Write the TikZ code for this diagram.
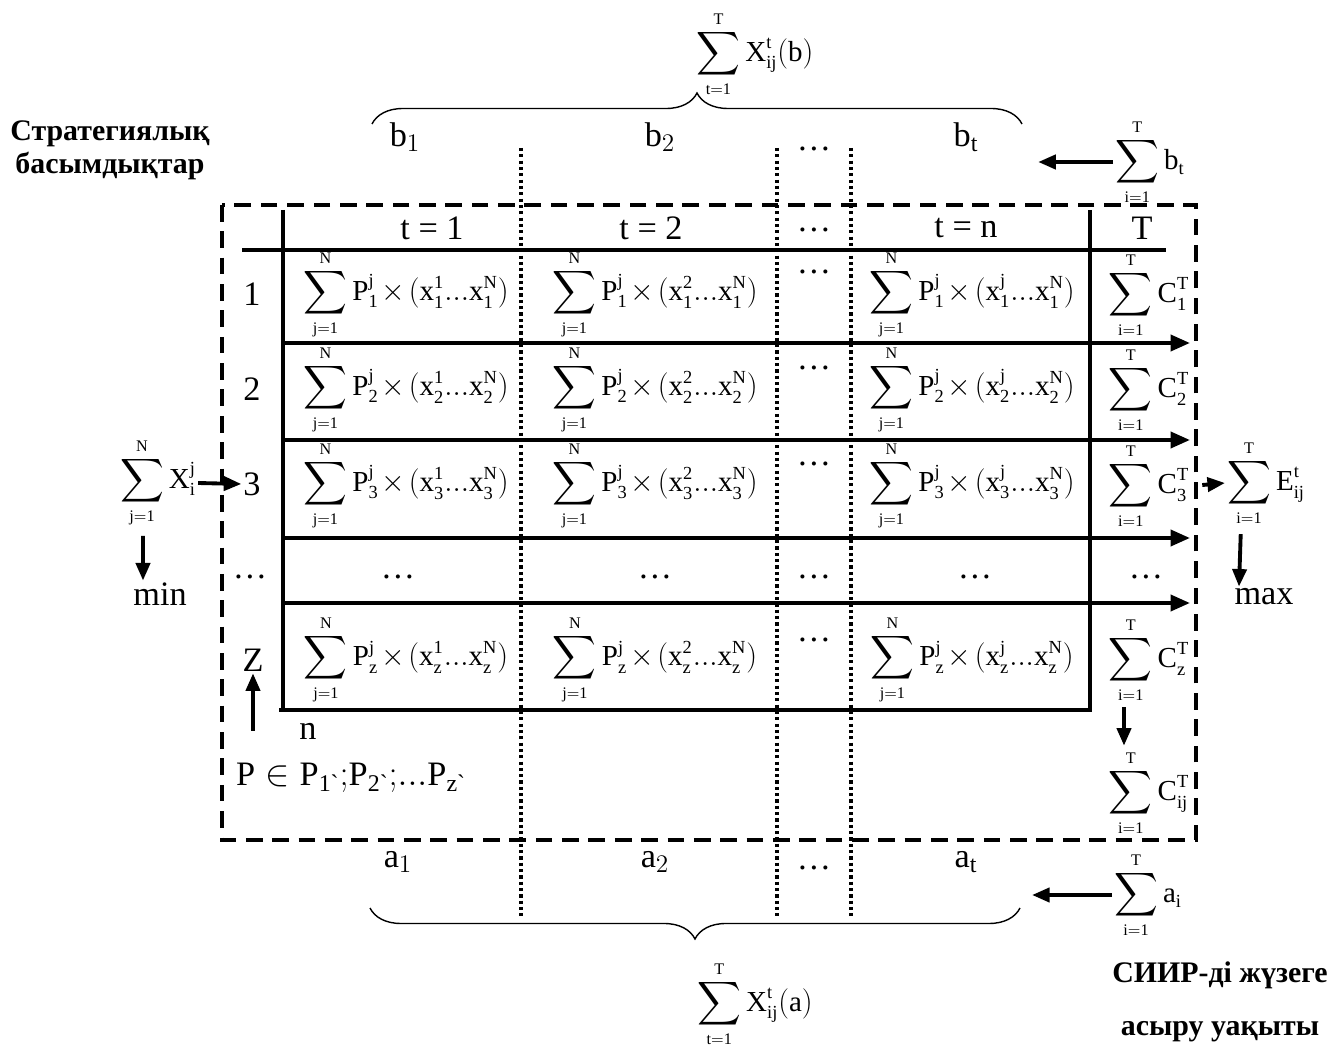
\documentclass[tikz,border=0pt]{standalone}
\usepackage{amsmath}
\usepackage{fontspec}
\setmainfont{Liberation Serif}
\usepackage{tikz}
\usetikzlibrary{positioning,calc,arrows.meta,decorations.pathreplacing}

\DeclareMathSizes{16.5}{16.5}{10.5}{9.2}
\newcommand{\tightop}{\fontdimen9\textfont3=3pt \fontdimen10\textfont3=3pt
  \fontdimen11\textfont3=3pt \fontdimen12\textfont3=0pt \fontdimen13\textfont3=0pt }
\newcommand{\rsum}[3]{\ensuremath{\tightop\displaystyle\sum_{\scriptscriptstyle\mathrm{#1}}^{\scriptscriptstyle\mathrm{#2}}\mathrm{#3}}}
\newcommand{\pcell}[2]{\rsum{j=1}{N}{P_{#1}^{j}\mkern2mu{\times}\mkern2mu(x_{#1}^{#2}...x_{#1}^{N})}}
\newcommand{\grv}{\text{\textasciigrave}}

\begin{document}
\begin{tikzpicture}[x=0.02cm, y=-0.02cm,
    txt/.style={font=\fontsize{19.5}{22}\selectfont, inner sep=1pt},
    frm/.style={font=\fontsize{16.5}{19}\selectfont, inner sep=1pt},
    lbl/.style={font=\fontsize{17}{19}\selectfont\bfseries, align=center},
    grid/.style={line width=2.3pt},
    rowarrow/.style={line width=2.3pt, -{Triangle[length=11pt,width=9pt]}},
    arrow/.style={line width=2.2pt, -{Triangle[length=10pt,width=8pt]}},
    frame/.style={line width=2.3pt, dash pattern=on 9.5pt off 5.5pt},
    dotline/.style={line width=2.1pt, dash pattern=on 1.8pt off 1.8pt},
    brace/.style={decorate, decoration={brace, amplitude=0.62cm}, line width=0.8pt}
]
\useasboundingbox (0,0) rectangle (1330,1050);

% frame and table
\draw[frame] (222,205) rectangle (1196,840);
\draw[dotline] (521,148) -- (521,918);
\draw[dotline] (777,148) -- (777,918);
\draw[dotline] (851,148) -- (851,918);
\draw[grid] (242,250) -- (1166,250);
\draw[grid] (283,210) -- (283,710);
\draw[grid] (279,710) -- (1092,710);
\draw[grid] (1090,210) -- (1090,710);

\coordinate (L1) at (283,343); \coordinate (R1) at (1190,343);
\coordinate (L2) at (283,440); \coordinate (R2) at (1190,440);
\coordinate (L3) at (283,538); \coordinate (R3) at (1190,538);
\coordinate (L4) at (283,603); \coordinate (R4) at (1190,603);
\draw[rowarrow] (L1) -- (R1);
\draw[rowarrow] (L2) -- (R2);
\draw[rowarrow] (L3) -- (R3);
\draw[rowarrow] (L4) -- (R4);

% header
\node[txt] (h1) at (432,228) {t = 1};
\node[txt] (h2) at (651,228) {t = 2};
\node[txt] (hd) at (814,230) {\ldots};
\node[txt] (hn) at (966,228) {t = n};
\node[txt] (hT) at (1142,228) {T};

% row labels
\node[txt] (r1) at (252,294) {1};
\node[txt] (r2) at (252,389) {2};
\node[txt] (r3) at (252,484) {3};
\node[txt] (rd) at (250,577) {\ldots};
\node[txt] (rz) at (253,660) {Z};

% cells
\node[frm] (c11) at (406,295) {\pcell{1}{1}};
\node[frm] (c12) at (655,295) {\pcell{1}{2}};
\node[frm] (c1n) at (972,295) {\pcell{1}{j}};
\node[frm] (c21) at (406,390) {\pcell{2}{1}};
\node[frm] (c22) at (655,390) {\pcell{2}{2}};
\node[frm] (c2n) at (972,390) {\pcell{2}{j}};
\node[frm] (c31) at (406,486) {\pcell{3}{1}};
\node[frm] (c32) at (655,486) {\pcell{3}{2}};
\node[frm] (c3n) at (972,486) {\pcell{3}{j}};
\node[frm] (cz1) at (406,660) {\pcell{z}{1}};
\node[frm] (cz2) at (655,660) {\pcell{z}{2}};
\node[frm] (czn) at (972,660) {\pcell{z}{j}};

\node[txt] (d1) at (814,272) {\ldots};
\node[txt] (d2) at (814,368) {\ldots};
\node[txt] (d3) at (814,464) {\ldots};
\node[txt] (dz) at (814,640) {\ldots};
\node[txt] (m1) at (398,577) {\ldots};
\node[txt] (m2) at (655,577) {\ldots};
\node[txt] (md) at (814,577) {\ldots};
\node[txt] (mn) at (975,577) {\ldots};
\node[txt] (mT) at (1146,577) {\ldots};

% T column
\node[frm] (t1) at (1149,295) {\rsum{i=1}{T}{C_{1}^{T}}};
\node[frm] (t2) at (1149,390) {\rsum{i=1}{T}{C_{2}^{T}}};
\node[frm] (t3) at (1149,486) {\rsum{i=1}{T}{C_{3}^{T}}};
\node[frm] (tz) at (1149,660) {\rsum{i=1}{T}{C_{z}^{T}}};
\node[frm] (tij) at (1149,793) {\rsum{i=1}{T}{C_{ij}^{T}}};
\draw[arrow] ([xshift=-0.5cm,yshift=-0.1cm]tz.south) -- ([xshift=-0.5cm,yshift=0.1cm]tij.north);

% left side
\node[frm] (sx) at (158,483) {\rsum{j=1}{N}{X_{i}^{j}}};
\node[txt] (min) at (160,594) {min};
\draw[arrow] (sx.east) -- (r3.west);
\draw[arrow, shorten <=5pt] ([xshift=-0.3cm]sx.south) -- ([xshift=-0.34cm]min.north);
\node[txt] (n) at (308,731) {n};
\draw[arrow] ([yshift=-0.2cm]rz.south |- n.north) -- (rz.south);
\node[txt, anchor=west] (pset) at (234,778) {$\mathrm{P\in P_{1\grv}{;}P_{2\grv}{;}...P_{z\grv}}$};

% right side
\node[frm] (se) at (1266,483) {\rsum{i=1}{T}{E_{ij}^{t}}};
\node[txt] (max) at (1264,597) {max};
\draw[arrow, shorten <=0.22cm] (t3.east) -- (se.west);
\draw[arrow, shorten <=5pt] ([xshift=-0.5cm]se.south) -- ([xshift=-0.5cm]max.north);

% top
\node[txt] (b1) at (405,137) {b$_1$};
\node[txt] (b2) at (660,137) {b$_2$};
\node[txt] (bd) at (814,149) {\ldots};
\node[txt] (bt) at (966,137) {b$_\mathrm{t}$};
\coordinate (tbl) at (372,124);
\coordinate (tbr) at (1022,124);
\draw[brace] (tbl) -- (tbr);
\node[frm] (sxb) at (755,54) {\rsum{t=1}{T}{X_{ij}^{t}(b)}};
\node[frm] (sb) at (1150,162) {\rsum{i=1}{T}{b_{t}}};
\draw[arrow] (sb.west) -- +(-1.5cm,0) coordinate (bend);

% bottom
\node[txt] (a1) at (398,862) {a$_1$};
\node[txt] (a2) at (655,862) {a$_2$};
\node[txt] (ad) at (814,868) {\ldots};
\node[txt] (at) at (966,862) {a$_\mathrm{t}$};
\coordinate (bbr) at (1020,908);
\coordinate (bbl) at (370,908);
\draw[brace] (bbr) -- (bbl);
\node[frm] (sxa) at (755,1004) {\rsum{t=1}{T}{X_{ij}^{t}(a)}};
\node[frm] (sa) at (1148,895) {\rsum{i=1}{T}{a_{i}}};
\draw[arrow] (sa.west) -- +(-1.6cm,0) coordinate (aend);

% captions
\node[lbl] (strat) at (110,150) {Стратегиялық\\басымдықтар};
\node[lbl] (time) at (1220,1002) {СИИР-ді жүзеге\\[0.4cm]асыру уақыты};

\end{tikzpicture}
\end{document}
